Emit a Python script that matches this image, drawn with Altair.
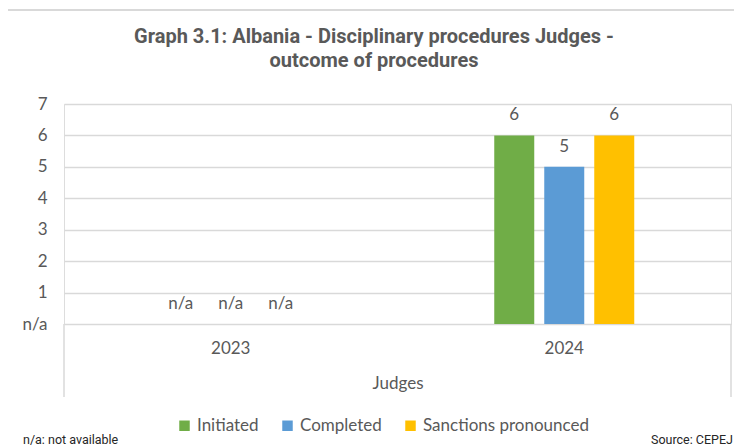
import altair as alt
import pandas as pd

years = ["2023", "2023", "2023", "2024", "2024", "2024"]
series = ["Initiated", "Completed", "Sanctions pronounced"] * 2
values = [None, None, None, 6, 5, 6]
series_order = ["Initiated", "Completed", "Sanctions pronounced"]
colors = ["#70AD47", "#5B9BD5", "#FFC000"]
title_text = "Graph 3.1: Albania - Disciplinary procedures Judges -\noutcome of procedures"
y_ticks = [0, 1, 2, 3, 4, 5, 6, 7]

df = pd.DataFrame({"year": years, "series": series, "value": values})

W, H = 667, 220
GREY = "#595959"
LINE = "#D9D9D9"
FONT = "Lato"
BAND = W / 2

x_enc = alt.X("year:N", title="Judges",
              scale=alt.Scale(paddingInner=0, paddingOuter=0),
              axis=alt.Axis(labelAngle=0, domain=False, ticks=False, tickSize=0,
                            labelFontSize=17, labelColor=GREY, labelFont=FONT,
                            labelPadding=16, titleFontSize=17, titleColor=GREY,
                            titleFont=FONT, titleFontWeight="normal", titlePadding=19))
xo_enc = alt.XOffset("series:N", sort=series_order,
                     scale=alt.Scale(paddingInner=0.2, paddingOuter=0,
                                     range=[BAND / 2 - 70, BAND / 2 + 70]))
y_enc = alt.Y("yv:Q", title=None,
              scale=alt.Scale(domain=[0, 7], nice=False),
              axis=alt.Axis(values=y_ticks, domain=False, ticks=False, tickSize=0,
                            labelExpr="datum.value == 0 ? 'n/a' : datum.label",
                            labelFontSize=17, labelColor=GREY, labelFont=FONT,
                            labelPadding=17, gridColor=LINE, gridWidth=1.3))

base = alt.Chart(df).transform_calculate(
    yv="isValid(datum.value) ? datum.value : 0",
    lab="isValid(datum.value) ? format(datum.value, 'd') : 'n/a'",
)

bars = base.transform_filter("isValid(datum.value)").mark_bar().encode(
    x=x_enc, xOffset=xo_enc, y=y_enc,
    color=alt.Color("series:N", sort=series_order, title=None,
                    scale=alt.Scale(domain=series_order, range=colors),
                    legend=alt.Legend(orient="none", direction="horizontal",
                                      legendX=112, legendY=313,
                                      symbolType="square", symbolSize=110,
                                      symbolStrokeWidth=0, labelFontSize=17,
                                      labelColor=GREY, labelFont=FONT, labelLimit=400,
                                      columnPadding=20, labelOffset=4)),
)

labels = base.mark_text(baseline="middle", dy=-20, fontSize=17, color=GREY, font=FONT).encode(
    x=x_enc, xOffset=xo_enc, y=y_enc, text="lab:N",
)

one = alt.Data(values=[{"k": 1}])
edge_l = alt.Chart(one).mark_rule(color=LINE, strokeWidth=1.5).encode(
    x=alt.value(0), y=alt.value(H), y2=alt.value(H + 73))
edge_r = alt.Chart(one).mark_rule(color=LINE, strokeWidth=1.5).encode(
    x=alt.value(W), y=alt.value(H), y2=alt.value(H + 73))
border_top = alt.Chart(one).mark_rule(color=LINE, strokeWidth=2).encode(
    x=alt.value(-57), x2=alt.value(700), y=alt.value(-94))
border_left = alt.Chart(one).mark_rule(color=LINE, strokeWidth=2).encode(
    x=alt.value(-57), y=alt.value(-94), y2=alt.value(350))
title = alt.Chart(one).mark_text(align="center", baseline="alphabetic", fontSize=20,
                                 font="Roboto", fontWeight="bold", color=GREY,
                                 lineBreak="\n", lineHeight=24).encode(
    x=alt.value(310), y=alt.value(-61), text=alt.value(title_text))
note_l = alt.Chart(one).mark_text(align="left", baseline="middle", fontSize=12.5,
                                  font="Roboto", color="#262626").encode(
    x=alt.value(-41), y=alt.value(336), text=alt.value("n/a: not available"))
note_r = alt.Chart(one).mark_text(align="right", baseline="middle", fontSize=12.5,
                                  font="Roboto", color="#262626").encode(
    x=alt.value(669), y=alt.value(336), text=alt.value("Source: CEPEJ"))

chart = alt.layer(border_top, border_left, title, bars, labels, edge_l, edge_r,
                  note_l, note_r).properties(
    width=W, height=H,
    autosize=alt.AutoSizeParams(type="none"),
    padding={"left": 56, "top": 96, "right": 3, "bottom": 124},
).configure_view(stroke=None).configure(background="white")

chart.save("out.html", embed_options={"renderer": "svg", "actions": False})
